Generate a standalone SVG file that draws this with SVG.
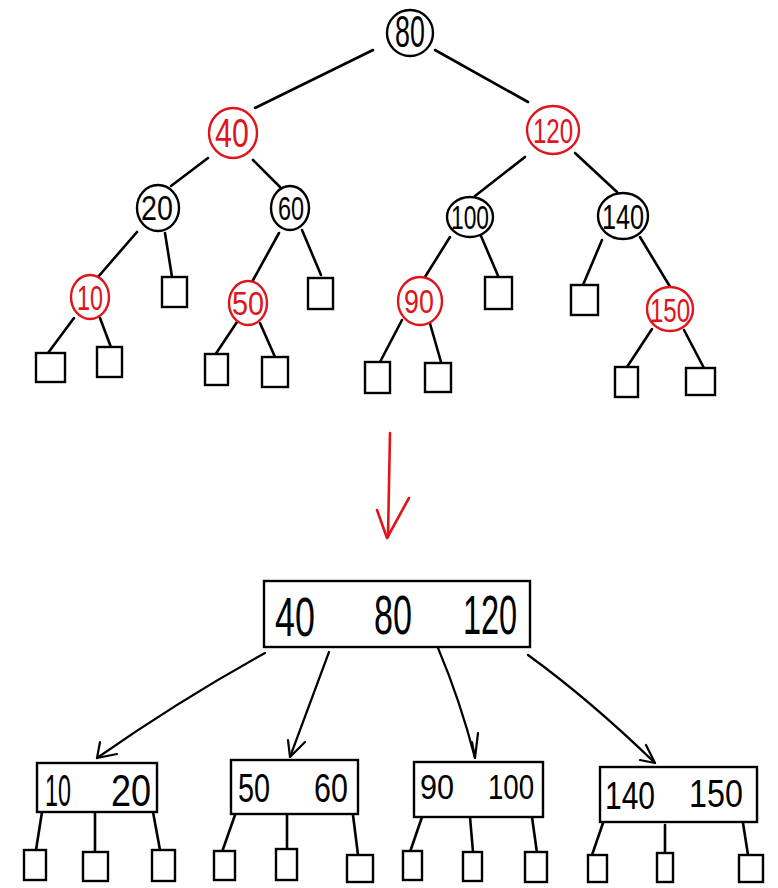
<svg xmlns="http://www.w3.org/2000/svg" width="778" height="888" viewBox="0 0 778 888">
<style>
.e{stroke:#000;stroke-width:2.6;fill:none;stroke-linecap:round;stroke-linejoin:round}
.a{stroke:#000;stroke-width:2.2;fill:none;stroke-linecap:round;stroke-linejoin:round}
.cb{stroke:#000;stroke-width:2.4;fill:#fff}
.cr{stroke:#e0141a;stroke-width:2.4;fill:#fff}
.sq{stroke:#000;stroke-width:2.4;fill:#fff}
.box{stroke:#000;stroke-width:2.4;fill:#fff}
.t{font-family:"Liberation Sans","DejaVu Sans",sans-serif;font-weight:normal;text-anchor:middle}
.tb{fill:#000}
.tr{fill:#e0141a}
.tm{font-size:56px}
</style>
<g id="connectors">
<line class="e" x1="373" y1="50" x2="255" y2="108"/>
<line class="e" x1="435" y1="50" x2="528" y2="102"/>
<line class="e" x1="208" y1="158" x2="171" y2="186"/>
<line class="e" x1="253" y1="160" x2="280" y2="187"/>
<line class="e" x1="137" y1="232" x2="98" y2="277"/>
<line class="e" x1="165" y1="233" x2="172" y2="277"/>
<line class="e" x1="279" y1="233" x2="252" y2="282"/>
<line class="e" x1="302" y1="230" x2="321" y2="275"/>
<line class="e" x1="74" y1="318" x2="48" y2="353"/>
<line class="e" x1="100" y1="318" x2="112" y2="350"/>
<line class="e" x1="237" y1="322" x2="215" y2="355"/>
<line class="e" x1="260" y1="323" x2="275" y2="357"/>
<line class="e" x1="525" y1="157" x2="475" y2="196"/>
<line class="e" x1="575" y1="153" x2="617" y2="192"/>
<line class="e" x1="450" y1="237" x2="425" y2="277"/>
<line class="e" x1="481" y1="236" x2="499" y2="278"/>
<line class="e" x1="602" y1="240" x2="583" y2="285"/>
<line class="e" x1="640" y1="237" x2="672" y2="290"/>
<line class="e" x1="402" y1="320" x2="380" y2="362"/>
<line class="e" x1="429" y1="320" x2="441" y2="362"/>
<line class="e" x1="652" y1="329" x2="627" y2="367"/>
<line class="e" x1="684" y1="330" x2="705" y2="370"/>
<g id="red-arrow" stroke="#e0141a" stroke-width="2.6" fill="none" stroke-linecap="round" stroke-linejoin="round">
<path d="M390 433 Q389 480 388 537"/>
<path d="M377 510 L387 538 L409 498"/>
</g>
<path class="a" d="M265 653 Q180 700 97 758"/>
<path class="a" d="M100 742 L97 758 L117 754"/>
<path class="a" d="M329 652 L290 757"/>
<path class="a" d="M288 740 L290 757 L305 742"/>
<path class="a" d="M438 648 Q460 700 475 758"/>
<path class="a" d="M472 742 L475 758 L478 733"/>
<path class="a" d="M528 655 Q590 700 655 763"/>
<path class="a" d="M640 760 L655 763 L646 745"/>
<line class="e" x1="42" y1="812" x2="36" y2="850"/>
<line class="e" x1="95" y1="812" x2="95" y2="852"/>
<line class="e" x1="153" y1="812" x2="160" y2="850"/>
<line class="e" x1="235" y1="815" x2="222" y2="852"/>
<line class="e" x1="287" y1="815" x2="287" y2="850"/>
<line class="e" x1="353" y1="815" x2="358" y2="855"/>
<line class="e" x1="422" y1="817" x2="410" y2="852"/>
<line class="e" x1="470" y1="817" x2="473" y2="852"/>
<line class="e" x1="532" y1="817" x2="537" y2="853"/>
<line class="e" x1="603" y1="823" x2="592" y2="855"/>
<line class="e" x1="665" y1="825" x2="665" y2="853"/>
<line class="e" x1="743" y1="823" x2="748" y2="855"/>
</g>
<g id="n80"><ellipse class="cb" cx="410" cy="33" rx="23" ry="23"/><text class="t tb" font-size="44" transform="translate(410 47) scale(0.61 1)">80</text></g>
<g id="n40"><ellipse class="cr" cx="233" cy="133" rx="24" ry="25"/><text class="t tr" font-size="40" transform="translate(232 147) scale(0.76 1)">40</text></g>
<g id="n120"><ellipse class="cr" cx="553" cy="130" rx="26" ry="24"/><text class="t tr" font-size="36" transform="translate(553 143) scale(0.67 1)">120</text></g>
<g id="n20"><ellipse class="cb" cx="158" cy="208" rx="21" ry="23"/><text class="t tb" font-size="35" transform="translate(157 220) scale(0.82 1)">20</text></g>
<g id="n60"><ellipse class="cb" cx="290" cy="208" rx="19" ry="22"/><text class="t tb" font-size="34" transform="translate(291 220) scale(0.69 1)">60</text></g>
<g id="n100"><ellipse class="cb" cx="470" cy="217" rx="23" ry="20"/><text class="t tb" font-size="34" transform="translate(470 229) scale(0.67 1)">100</text></g>
<g id="n140"><ellipse class="cb" cx="623" cy="216" rx="25" ry="23"/><text class="t tb" font-size="36" transform="translate(623 229) scale(0.7 1)">140</text></g>
<g id="n10"><ellipse class="cr" cx="90" cy="297" rx="19" ry="22"/><text class="t tr" font-size="36" transform="translate(90 310) scale(0.65 1)">10</text></g>
<g id="n50"><ellipse class="cr" cx="248" cy="303" rx="19" ry="22"/><text class="t tr" font-size="34" transform="translate(248 315) scale(0.85 1)">50</text></g>
<g id="n90"><ellipse class="cr" cx="420" cy="301" rx="22" ry="24"/><text class="t tr" font-size="34" transform="translate(419 313) scale(0.79 1)">90</text></g>
<g id="n150"><ellipse class="cr" cx="670" cy="309" rx="23" ry="22"/><text class="t tr" font-size="34" transform="translate(670 322) scale(0.71 1)">150</text></g>
<g id="leaves-top">
<rect class="sq" x="162" y="277" width="25" height="30"/>
<rect class="sq" x="308" y="278" width="25" height="31"/>
<rect class="sq" x="36" y="353" width="29" height="29"/>
<rect class="sq" x="97" y="347" width="25" height="30"/>
<rect class="sq" x="205" y="354" width="23" height="31"/>
<rect class="sq" x="262" y="357" width="26" height="30"/>
<rect class="sq" x="365" y="362" width="25" height="31"/>
<rect class="sq" x="425" y="363" width="26" height="29"/>
<rect class="sq" x="485" y="277" width="27" height="32"/>
<rect class="sq" x="571" y="285" width="27" height="30"/>
<rect class="sq" x="615" y="367" width="23" height="30"/>
<rect class="sq" x="686" y="368" width="29" height="27"/>
</g>
<g id="root">
<rect class="box" x="264" y="581" width="266" height="66"/>
<text class="t tb tm" transform="translate(295 636) scale(0.64 1)">40</text>
<text class="t tb tm" transform="translate(393 634) scale(0.61 1)">80</text>
<text class="t tb tm" transform="translate(490 634) scale(0.58 1)">120</text>
</g>
<g id="b1"><rect class="box" x="37" y="763" width="120" height="49"/>
<text class="t tb" font-size="44" transform="translate(58 806) scale(0.53 1)">10</text>
<text class="t tb" font-size="44" transform="translate(131 806) scale(0.82 1)">20</text></g>
<g id="b2"><rect class="box" x="231" y="760" width="127" height="54"/>
<text class="t tb" font-size="40" transform="translate(254 802) scale(0.72 1)">50</text>
<text class="t tb" font-size="40" transform="translate(331 802) scale(0.76 1)">60</text></g>
<g id="b3"><rect class="box" x="414" y="762" width="129" height="55"/>
<text class="t tb" font-size="36" transform="translate(437 799) scale(0.85 1)">90</text>
<text class="t tb" font-size="36" transform="translate(511 799) scale(0.77 1)">100</text></g>
<g id="b4"><rect class="box" x="600" y="767" width="157" height="55"/>
<text class="t tb" font-size="38" transform="translate(630 809) scale(0.79 1)">140</text>
<text class="t tb" font-size="38" transform="translate(716 807) scale(0.85 1)">150</text></g>
<g id="leaves-bottom">
<rect class="sq" x="24" y="850" width="22" height="30"/>
<rect class="sq" x="83" y="852" width="25" height="29"/>
<rect class="sq" x="152" y="850" width="23" height="31"/>
<rect class="sq" x="214" y="851" width="21" height="29"/>
<rect class="sq" x="276" y="849" width="21" height="31"/>
<rect class="sq" x="347" y="855" width="26" height="27"/>
<rect class="sq" x="403" y="851" width="19" height="29"/>
<rect class="sq" x="463" y="852" width="19" height="29"/>
<rect class="sq" x="525" y="852" width="22" height="30"/>
<rect class="sq" x="588" y="855" width="19" height="27"/>
<rect class="sq" x="657" y="853" width="16" height="29"/>
<rect class="sq" x="739" y="855" width="24" height="27"/>
</g>
</svg>
